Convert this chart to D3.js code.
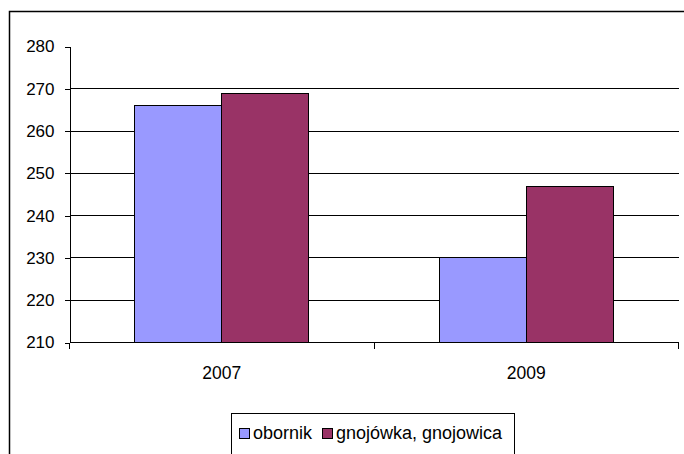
<!DOCTYPE html>
<html>
<head>
<meta charset="utf-8">
<script src="https://cdn.jsdelivr.net/npm/d3@7"></script>
<style>
  body { margin: 0; background: #fff; }
  text { font-family: "Liberation Sans", Arial, sans-serif; fill: #000; }
</style>
</head>
<body>
<script>
const width = 684;
const height = 454;

// data
const years = ['2007', '2009'];
const seriesNames = ['obornik', 'gnojówka, gnojowica'];
const obornik = [266, 230];
const gnojowka = [269, 247];
const yTicks = [210, 220, 230, 240, 250, 260, 270, 280];
const colors = ['#9999ff', '#993366'];

const values = [obornik, gnojowka];

const plot = { left: 69.5, right: 678.5, top: 46.5, bottom: 342.5 };

const svg = d3.select('body')
  .append('svg')
  .attr('width', width)
  .attr('height', height);

// outer frame
svg.append('rect')
  .attr('x', 9.5)
  .attr('y', 11.5)
  .attr('width', 700)
  .attr('height', 500)
  .attr('fill', 'none')
  .attr('stroke', '#000')
  .attr('stroke-width', 1.5);

const yScale = d3.scaleLinear()
  .domain([210, 280])
  .range([plot.bottom, plot.top]);

const x0 = d3.scaleBand()
  .domain(years)
  .range([plot.left, plot.right])
  .padding(0);

const x1 = d3.scaleBand()
  .domain(seriesNames)
  .range([0, x0.bandwidth()])
  .paddingInner(0)
  .paddingOuter(0.75);

// gridlines
svg.append('g')
  .selectAll('line')
  .data(yTicks.filter(d => d > 210 && d < 280))
  .enter()
  .append('line')
  .attr('x1', plot.left)
  .attr('x2', plot.right)
  .attr('y1', d => yScale(d))
  .attr('y2', d => yScale(d))
  .attr('stroke', '#000')
  .attr('shape-rendering', 'crispEdges');

// bars
const groups = svg.append('g')
  .selectAll('g')
  .data(years)
  .enter()
  .append('g')
  .attr('transform', d => 'translate(' + x0(d) + ',0)');

groups.selectAll('rect')
  .data((d, i) => seriesNames.map((s, j) => ({ s: s, j: j, v: values[j][i] })))
  .enter()
  .append('rect')
  .attr('x', d => x1(d.s))
  .attr('y', d => yScale(d.v))
  .attr('width', x1.bandwidth())
  .attr('height', d => yScale(210) - yScale(d.v))
  .attr('fill', d => colors[d.j])
  .attr('stroke', '#000')
  .attr('stroke-width', 1)
  .attr('shape-rendering', 'crispEdges');

// y axis
const yAxis = d3.axisLeft(yScale)
  .tickValues(yTicks)
  .tickFormat(d3.format('d'))
  .tickSize(5)
  .tickSizeOuter(0)
  .tickPadding(10);

const yg = svg.append('g')
  .attr('transform', 'translate(' + plot.left + ',0)')
  .call(yAxis);
yg.selectAll('path, line').attr('stroke', '#000').attr('shape-rendering', 'crispEdges');
yg.selectAll('text')
  .style('font-size', '17px')
  .style('font-family', '"Liberation Sans", Arial, sans-serif')
  .attr('fill', '#000');

// x axis line and boundary ticks
const xg = svg.append('g');
xg.append('line')
  .attr('x1', plot.left)
  .attr('x2', plot.right)
  .attr('y1', plot.bottom)
  .attr('y2', plot.bottom)
  .attr('stroke', '#000')
  .attr('shape-rendering', 'crispEdges');

const bounds = years.map(d => x0(d)).concat([x0(years[years.length - 1]) + x0.bandwidth()]);
xg.selectAll('line.tick')
  .data(bounds)
  .enter()
  .append('line')
  .attr('class', 'tick')
  .attr('x1', d => Math.round(d - 0.5) + 0.5)
  .attr('x2', d => Math.round(d - 0.5) + 0.5)
  .attr('y1', plot.bottom)
  .attr('y2', plot.bottom + 6)
  .attr('stroke', '#000')
  .attr('shape-rendering', 'crispEdges');

xg.selectAll('text')
  .data(years)
  .enter()
  .append('text')
  .attr('x', d => x0(d) + x0.bandwidth() / 2)
  .attr('y', 379)
  .attr('text-anchor', 'middle')
  .style('font-size', '17.5px')
  .text(d => d);

// legend
const legend = svg.append('g');
legend.append('rect')
  .attr('x', 231.5)
  .attr('y', 413.5)
  .attr('width', 283)
  .attr('height', 50)
  .attr('fill', '#fff')
  .attr('stroke', '#000')
  .attr('stroke-width', 1);

const legendX = [239, 322];
seriesNames.forEach((s, i) => {
  legend.append('rect')
    .attr('x', legendX[i] + 0.5)
    .attr('y', 428.5)
    .attr('width', 10)
    .attr('height', 10)
    .attr('fill', colors[i])
    .attr('stroke', '#000')
    .attr('shape-rendering', 'crispEdges');
  legend.append('text')
    .attr('x', legendX[i] + 14)
    .attr('y', 439)
    .style('font-size', '18px')
    .text(s);
});
</script>
</body>
</html>
